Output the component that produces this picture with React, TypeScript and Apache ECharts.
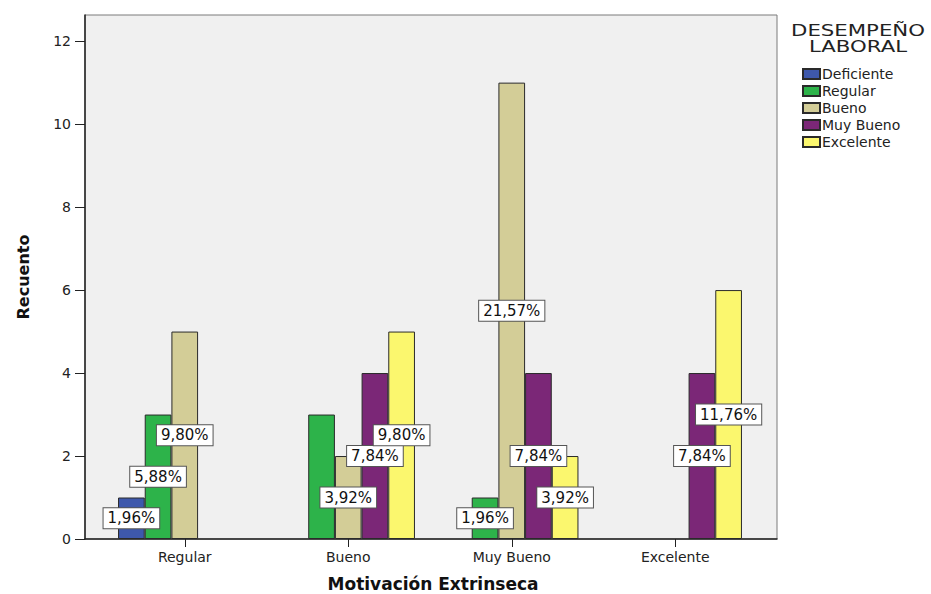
import React, { useEffect, useRef } from "react";
import * as echarts from "echarts";

const categories = ["Regular", "Bueno", "Muy Bueno", "Excelente"];
const seriesNames = ["Deficiente", "Regular", "Bueno", "Muy Bueno", "Excelente"];
const deficiente = [1, null, null, null];
const regular = [3, 3, 1, null];
const bueno = [5, 2, 11, null];
const muyBueno = [null, 4, 4, 4];
const excelente = [null, 5, 2, 6];
// [seriesIndex, categoryIndex] of bars whose percentage label is not shown
const hiddenLabels = [[1, 1]];
const yTicks = [0, 2, 4, 6, 8, 10, 12];
const colors = ["#3E58AC", "#2DB34A", "#D3CD97", "#7B2777", "#FBF76E"];

const FONT = "DejaVu Sans";

export default function App() {
  const ref = useRef<HTMLDivElement>(null);
  useEffect(() => {
    if (!ref.current) return;
    const chart = echarts.init(ref.current, null, { renderer: "svg" });
    const allSeries = [deficiente, regular, bueno, muyBueno, excelente];
    const total = allSeries.reduce(
      (s, arr) => s + arr.reduce((a: number, v) => a + (v ?? 0), 0),
      0
    );
    const fmtPct = (v: number) => ((v / total) * 100).toFixed(2).replace(".", ",") + "%";

    const series = allSeries.map((arr, si) => ({
      name: seriesNames[si],
      type: "bar",
      xAxisIndex: 1,
      yAxisIndex: 1,
      barGap: "0%",
      barCategoryGap: "18.4%",
      itemStyle: { color: colors[si], borderColor: "#2a2a2a", borderWidth: 1 },
      label: {
        show: true,
        position: "inside",
        formatter: (p: any) => fmtPct(p.value),
        backgroundColor: "#ffffff",
        borderColor: "#555555",
        borderWidth: 1,
        padding: [3, 4, 2, 4],
        fontSize: 15,
        fontFamily: FONT,
        color: "#111111",
      },
      data: arr.map((v, ci) =>
        hiddenLabels.some(([a, b]) => a === si && b === ci)
          ? { value: v, label: { show: false } }
          : v
      ),
    }));

    chart.setOption({
      animation: false,
      textStyle: { fontFamily: FONT },
      grid: [
        {
          left: 85,
          top: 15,
          width: 692,
          height: 524,
          show: true,
          backgroundColor: "#F0F0F0",
          borderColor: "#7a7a7a",
          borderWidth: 1,
        },
        { left: 103, top: 15, width: 654, height: 524 },
      ],
      xAxis: [
        {
          gridIndex: 0,
          type: "value",
          min: 0,
          max: 1,
          axisLine: { show: true, lineStyle: { color: "#222", width: 1.5 } },
          axisTick: { show: false },
          axisLabel: { show: false },
          splitLine: { show: false },
        },
        {
          gridIndex: 1,
          type: "category",
          data: categories,
          axisLine: { show: false },
          axisTick: { show: true, alignWithLabel: true, length: 8, lineStyle: { color: "#222" } },
          axisLabel: { fontSize: 14, color: "#222", margin: 11, fontFamily: FONT },
        },
      ],
      yAxis: [
        {
          gridIndex: 0,
          type: "value",
          min: 0,
          max: 12.63,
          axisLine: { show: true, lineStyle: { color: "#222", width: 1.5 } },
          axisTick: { show: true, length: 10, lineStyle: { color: "#222" }, customValues: yTicks },
          axisLabel: { fontSize: 14, color: "#222", margin: 14, fontFamily: FONT, customValues: yTicks },
          splitLine: { show: false },
          name: "Recuento",
          nameLocation: "middle",
          nameGap: 54,
          nameTextStyle: { fontSize: 16, fontWeight: "bold", color: "#111", fontFamily: FONT },
        },
        {
          gridIndex: 1,
          type: "value",
          min: 0,
          max: 12.63,
          show: false,
        },
      ],
      legend: {
        orient: "vertical",
        left: 802,
        top: 67,
        padding: 0,
        itemWidth: 17,
        itemHeight: 10,
        itemGap: 3,
        icon: "rect",
        data: seriesNames,
        textStyle: { fontSize: 14, color: "#222", fontFamily: FONT, padding: [0, 0, 0, -3] },
      },
      graphic: [
        {
          type: "text",
          x: 858,
          y: 22,
          scaleX: 1.33,
          style: {
            text: "DESEMPEÑO\nLABORAL",
            fontSize: 16,
            lineHeight: 16,
            fontFamily: FONT,
            fill: "#222",
            textAlign: "center",
          },
        },
        {
          type: "text",
          x: 433,
          y: 584,
          style: {
            text: "Motivación Extrinseca",
            fontSize: 17,
            fontWeight: "bold",
            fontFamily: FONT,
            fill: "#111",
            textAlign: "center",
            textVerticalAlign: "middle",
          },
        },
      ],
      series,
    });
    return () => chart.dispose();
  }, []);
  return (
    <div
      ref={ref}
      style={{ position: "fixed", left: 0, top: 0, width: 931, height: 594, background: "#fff" }}
    />
  );
}
